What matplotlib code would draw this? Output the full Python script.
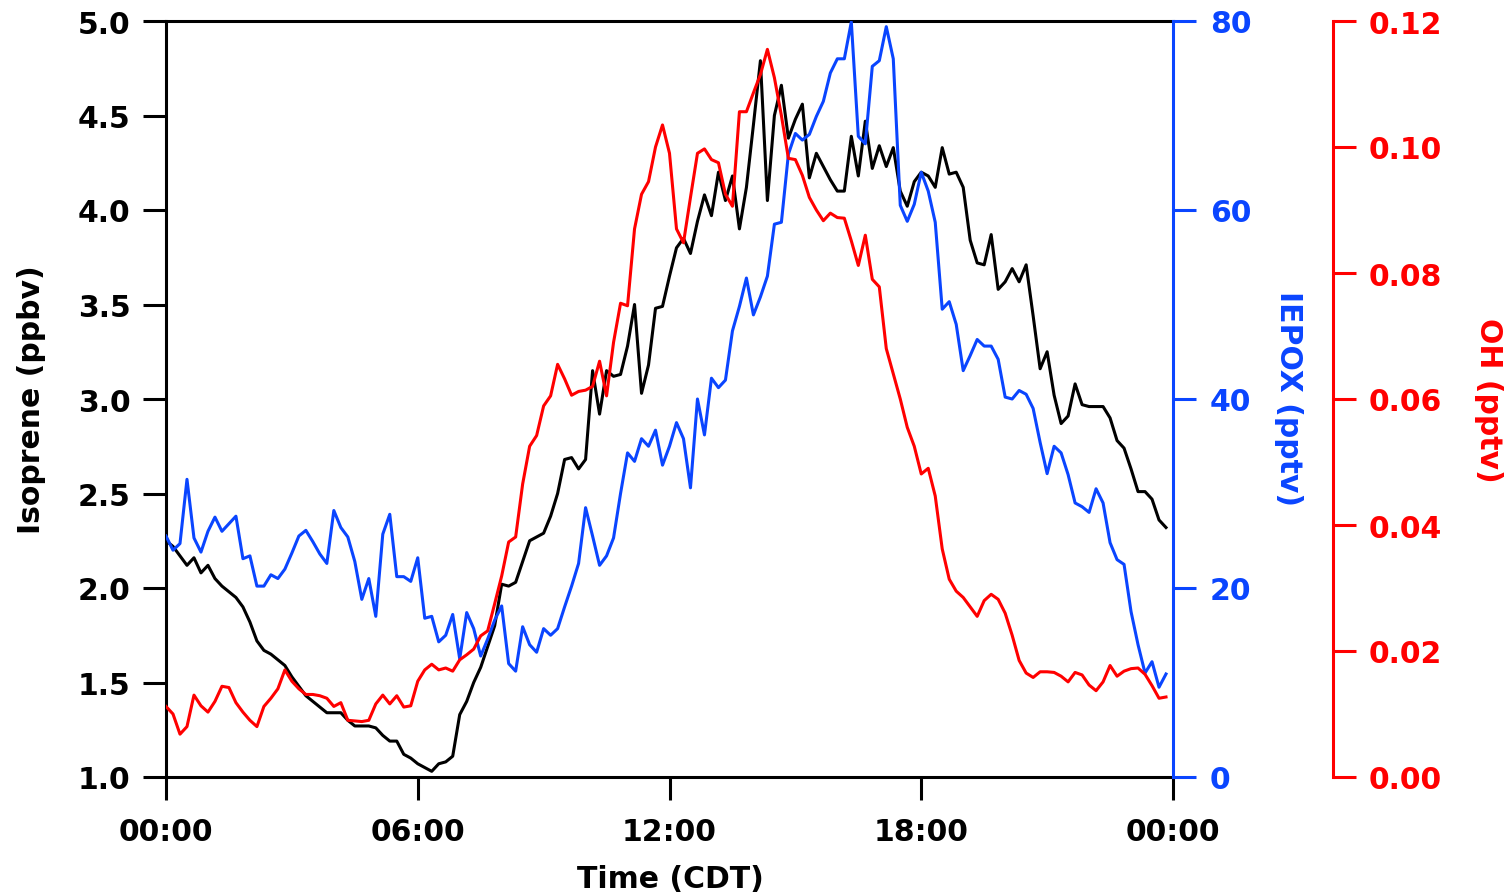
import matplotlib
matplotlib.use("Agg")
import matplotlib.pyplot as plt
import numpy as np

# ---- data: 10-minute averages over one day (00:00 .. 23:50 CDT) ----
n_points = 144
time_h = np.arange(n_points) / 6.0

isoprene_ppbv = [
    2.25, 2.22, 2.17, 2.12, 2.16, 2.08, 2.12, 2.05, 2.01, 1.98, 1.95, 1.90, 1.82, 1.72, 1.67, 1.65, 1.62, 1.59, 1.53, 1.48,
    1.43, 1.40, 1.37, 1.34, 1.34, 1.34, 1.30, 1.27, 1.27, 1.27, 1.26, 1.22, 1.19, 1.19, 1.12, 1.10, 1.07, 1.05,
    1.03, 1.07, 1.08, 1.11, 1.33, 1.40, 1.50, 1.58, 1.69, 1.80, 2.02, 2.01, 2.03, 2.14, 2.25, 2.27, 2.29, 2.38,
    2.50, 2.68, 2.69, 2.63, 2.68, 3.15, 2.92, 3.15, 3.12, 3.13, 3.28, 3.50, 3.03, 3.18, 3.48, 3.49, 3.65, 3.80,
    3.85, 3.77, 3.94, 4.08, 3.97, 4.20, 4.05, 4.18, 3.90, 4.12, 4.45, 4.79, 4.05, 4.50, 4.66, 4.38, 4.48, 4.56,
    4.17, 4.30, 4.23, 4.16, 4.10, 4.10, 4.39, 4.18, 4.47, 4.22, 4.34, 4.23, 4.33, 4.10, 4.02, 4.15, 4.20, 4.18,
    4.12, 4.33, 4.19, 4.20, 4.12, 3.84, 3.72, 3.71, 3.87, 3.58, 3.62, 3.69, 3.62, 3.71, 3.44, 3.16, 3.25, 3.02,
    2.87, 2.91, 3.08, 2.97, 2.96, 2.96, 2.96, 2.90, 2.78, 2.74, 2.63, 2.51, 2.51, 2.47, 2.36, 2.32,
]

iepox_pptv = [
    25.5, 24.0, 24.7, 31.5, 25.3, 23.8, 26.0, 27.5, 26.0, 26.8, 27.6, 23.1, 23.4, 20.2, 20.2, 21.4, 21.0, 22.0, 23.7, 25.5,
    26.1, 24.9, 23.6, 22.6, 28.2, 26.4, 25.4, 22.8, 18.8, 21.0, 17.0, 25.7, 27.8, 21.2, 21.2, 20.7, 23.2, 16.8,
    17.0, 14.3, 15.0, 17.2, 12.5, 17.4, 15.7, 12.8, 14.6, 16.6, 18.1, 12.0, 11.2, 15.9, 14.0, 13.2, 15.7, 15.0,
    15.7, 18.0, 20.2, 22.6, 28.5, 25.5, 22.4, 23.4, 25.3, 30.0, 34.3, 33.4, 35.8, 35.0, 36.7, 33.0, 35.0, 37.5,
    35.8, 30.6, 40.0, 36.2, 42.2, 41.2, 42.0, 47.2, 49.8, 52.8, 48.9, 50.8, 53.0, 58.5, 58.7, 65.9, 68.1, 67.4,
    68.0, 69.9, 71.5, 74.5, 76.0, 76.0, 79.9, 67.8, 67.0, 75.2, 75.8, 79.4, 76.0, 60.5, 58.8, 60.6, 64.0, 62.0,
    58.7, 49.5, 50.3, 47.9, 43.0, 44.6, 46.3, 45.6, 45.6, 44.2, 40.2, 40.0, 40.9, 40.5, 39.0, 35.4, 32.1, 35.0,
    34.3, 32.0, 29.0, 28.6, 28.0, 30.5, 29.0, 24.8, 23.0, 22.5, 17.5, 14.0, 11.0, 12.2, 9.5, 10.9,
]

oh_pptv = [
    0.0112, 0.0100, 0.0068, 0.0080, 0.0130, 0.0113, 0.0103, 0.0120, 0.0144, 0.0142,
    0.0118, 0.0103, 0.0090, 0.0080, 0.0112, 0.0125, 0.0140, 0.0170, 0.0152, 0.0140,
    0.0131, 0.0131, 0.0129, 0.0125, 0.0112, 0.0118, 0.0090, 0.0089, 0.0088, 0.0090,
    0.0116, 0.0130, 0.0116, 0.0129, 0.0111, 0.0113, 0.0152, 0.0170,
    0.0179, 0.0170, 0.0173, 0.0168, 0.0186, 0.0194, 0.0203, 0.0224, 0.0232, 0.0275,
    0.0319, 0.0373, 0.0381, 0.0465, 0.0525, 0.0542, 0.0589, 0.0605,
    0.0655, 0.0632, 0.0606, 0.0612, 0.0614, 0.0620, 0.0660, 0.0605, 0.0690, 0.0752,
    0.0748, 0.0870, 0.0925, 0.0945, 0.1000, 0.1035, 0.0990, 0.0870,
    0.0848, 0.0920, 0.0990, 0.0997, 0.0980, 0.0975, 0.0925, 0.0906, 0.1056, 0.1056,
    0.1086, 0.1115, 0.1155, 0.1110, 0.1050, 0.0982, 0.0980, 0.0955,
    0.0920, 0.0900, 0.0883, 0.0895, 0.0888, 0.0887, 0.0851, 0.0812, 0.0860, 0.0790,
    0.0778, 0.0680, 0.0640, 0.0600, 0.0555, 0.0525, 0.0481, 0.0490,
    0.0446, 0.0362, 0.0314, 0.0295, 0.0285, 0.0270, 0.0255, 0.0280, 0.0290, 0.0282,
    0.0260, 0.0225, 0.0185, 0.0165, 0.0158, 0.0167, 0.0167, 0.0166,
    0.0160, 0.0151, 0.0166, 0.0162, 0.0146, 0.0137, 0.0151, 0.0177, 0.0160, 0.0168,
    0.0172, 0.0173, 0.0163, 0.0145, 0.0125, 0.0127,
]

x_ticks = [0, 6, 12, 18, 24]
x_tick_labels = ["00:00", "06:00", "12:00", "18:00", "00:00"]
iso_ticks = [1.0, 1.5, 2.0, 2.5, 3.0, 3.5, 4.0, 4.5, 5.0]
iepox_ticks = [0, 20, 40, 60, 80]
oh_ticks = [0.00, 0.02, 0.04, 0.06, 0.08, 0.10, 0.12]

# ---- styling ----
BLACK = "black"
BLUE = "#0a45ff"
RED = "#ff0000"
LW = 2.2
FS = 21.5
TICK_LEN = 16.5

plt.rcParams["font.family"] = "DejaVu Sans"
plt.rcParams["font.weight"] = "bold"

W, H = 1505, 895
fig = plt.figure(figsize=(W / 100, H / 100), dpi=100)
ax = fig.add_axes([166 / W, 117 / H, 1007 / W, 756 / H])
ax_ie = ax.twinx()
ax_oh = ax.twinx()
ax_oh.spines["right"].set_position(("axes", 1 + 160 / 1007))

ax.plot(time_h, isoprene_ppbv, color=BLACK, lw=LW, zorder=3)
ax_oh.plot(time_h, oh_pptv, color=RED, lw=LW, zorder=3)
ax_ie.plot(time_h, iepox_pptv, color=BLUE, lw=LW, zorder=3)

ax.set_xlim(0, 24)
ax.set_ylim(1.0, 5.0)
ax_ie.set_ylim(0, 80)
ax_oh.set_ylim(0, 0.12)

ax.set_xticks(x_ticks)
ax.set_xticklabels(x_tick_labels)
ax.set_yticks(iso_ticks)
ax.set_yticklabels([f"{v:.1f}" for v in iso_ticks])
ax_ie.set_yticks(iepox_ticks)
ax_ie.set_yticklabels([f"{v:d}" for v in iepox_ticks])
ax_oh.set_yticks(oh_ticks)
ax_oh.set_yticklabels([f"{v:.2f}" for v in oh_ticks])

# spines
for s in ["left", "top", "bottom"]:
    ax.spines[s].set_linewidth(LW)
    ax.spines[s].set_color(BLACK)
ax.spines["right"].set_visible(False)
for a, c in [(ax_ie, BLUE), (ax_oh, RED)]:
    for s in ["left", "top", "bottom"]:
        a.spines[s].set_visible(False)
    a.spines["right"].set_linewidth(LW)
    a.spines["right"].set_color(c)

ax.tick_params(axis="x", direction="out", length=TICK_LEN, width=LW,
               labelsize=FS, pad=12, colors=BLACK)
ax.tick_params(axis="y", direction="out", length=TICK_LEN, width=LW,
               labelsize=FS, pad=9, colors=BLACK)
ax_ie.tick_params(axis="y", direction="out", length=TICK_LEN, width=LW,
                  labelsize=FS, pad=10, colors=BLUE)
ax_oh.tick_params(axis="y", direction="out", length=TICK_LEN, width=LW,
                  labelsize=FS, pad=9, colors=RED)
for a in (ax, ax_ie, ax_oh):
    a.minorticks_off()

# axis titles
fig.text(32 / W, 1 - 400 / H, "Isoprene (ppbv)", rotation=90, ha="center",
         va="center", fontsize=FS, fontweight="bold", color=BLACK)
fig.text(1288 / W, 1 - 399 / H, "IEPOX (pptv)", rotation=-90, ha="center",
         va="center", fontsize=FS, fontweight="bold", color=BLUE)
fig.text(1489 / W, 1 - 400 / H, "OH (pptv)", rotation=-90, ha="center",
         va="center", fontsize=FS, fontweight="bold", color=RED)
fig.text(670 / W, 1 - 888 / H, "Time (CDT)", ha="center", va="baseline",
         fontsize=FS, fontweight="bold", color=BLACK)

fig.savefig("out.png", dpi=100)
